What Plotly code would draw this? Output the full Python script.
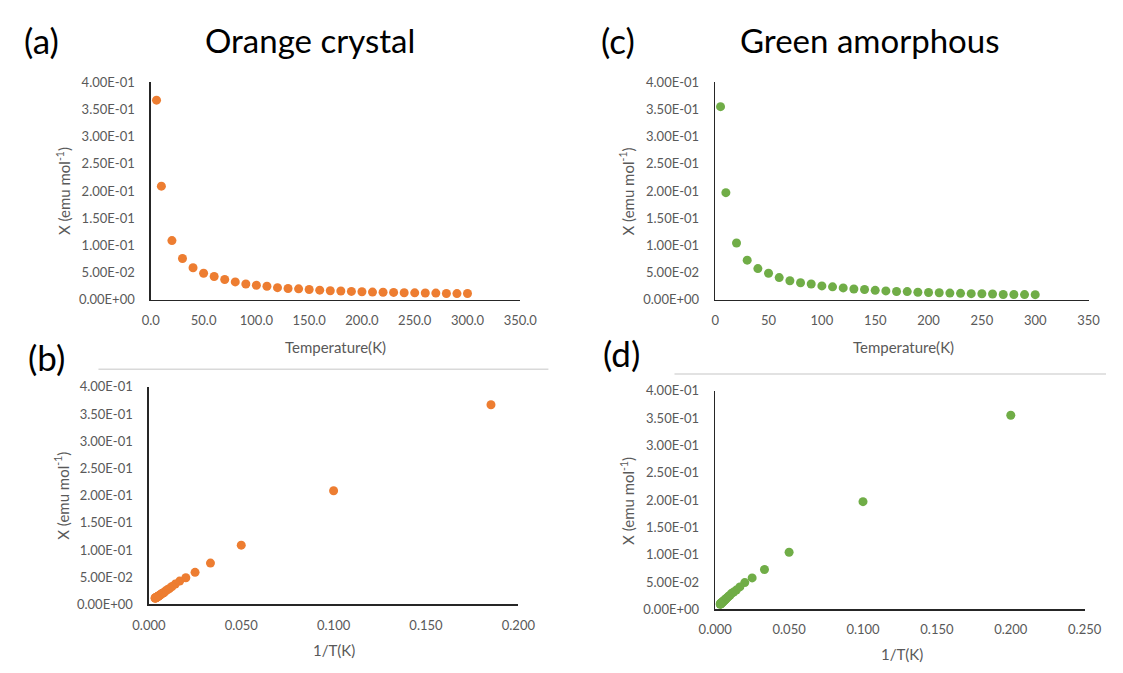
import plotly.graph_objects as go

# ---------------- data ----------------
T_orange = [5.4, 10, 20, 30, 40, 50, 60, 70, 80, 90, 100, 110, 120, 130, 140, 150,
            160, 170, 180, 190, 200, 210, 220, 230, 240, 250, 260, 270, 280, 290, 300]
chi_orange = [0.367, 0.209, 0.109, 0.076, 0.059, 0.049, 0.043, 0.0375, 0.033, 0.0293,
              0.0269, 0.025, 0.0225, 0.021, 0.0203, 0.0191, 0.0179, 0.0167, 0.0163,
              0.0156, 0.015, 0.0143, 0.0140, 0.0137, 0.0132, 0.0130, 0.0127, 0.0125,
              0.0118, 0.0116, 0.0118]

T_green = [5, 10, 20, 30, 40, 50, 60, 70, 80, 90, 100, 110, 120, 130, 140, 150,
           160, 170, 180, 190, 200, 210, 220, 230, 240, 250, 260, 270, 280, 290, 300]
chi_green = [0.355, 0.197, 0.1045, 0.073, 0.0575, 0.049, 0.041, 0.0352, 0.0316, 0.0293,
             0.0257, 0.0240, 0.0220, 0.0200, 0.0190, 0.0175, 0.0165, 0.0155, 0.0152,
             0.0140, 0.0135, 0.0132, 0.0125, 0.0120, 0.0114, 0.0112, 0.0108, 0.0100,
             0.0098, 0.0097, 0.0096]

invT_orange = [1.0 / t for t in T_orange]
invT_green = [1.0 / t for t in T_green]

y_tickvals = [0, 0.05, 0.10, 0.15, 0.20, 0.25, 0.30, 0.35, 0.40]
y_ticktext = ["0.00E+00", "5.00E-02", "1.00E-01", "1.50E-01", "2.00E-01",
              "2.50E-01", "3.00E-01", "3.50E-01", "4.00E-01"]
xa_tickvals = [0, 50, 100, 150, 200, 250, 300, 350]
xa_ticktext = ["0.0", "50.0", "100.0", "150.0", "200.0", "250.0", "300.0", "350.0"]
xc_ticktext = ["0", "50", "100", "150", "200", "250", "300", "350"]
xb_tickvals = [0, 0.05, 0.10, 0.15, 0.20]
xb_ticktext = ["0.000", "0.050", "0.100", "0.150", "0.200"]
xd_tickvals = [0, 0.05, 0.10, 0.15, 0.20, 0.25]
xd_ticktext = ["0.000", "0.050", "0.100", "0.150", "0.200", "0.250"]

ORANGE = "#ED7D31"
GREEN = "#70AD47"
W, H = 1123, 673
FONT = "Lato"
TICKCOL = "#595959"
AXCOL = "#262626"


def px(x):
    return x / W


def py(y):
    return 1 - y / H


fig = go.Figure()

fig.add_trace(go.Scatter(x=T_orange, y=chi_orange, mode="markers", xaxis="x", yaxis="y",
                         marker=dict(color=ORANGE, size=9), showlegend=False))
fig.add_trace(go.Scatter(x=invT_orange, y=chi_orange, mode="markers", xaxis="x2", yaxis="y2",
                         marker=dict(color=ORANGE, size=9), showlegend=False))
fig.add_trace(go.Scatter(x=T_green, y=chi_green, mode="markers", xaxis="x3", yaxis="y3",
                         marker=dict(color=GREEN, size=9), showlegend=False))
fig.add_trace(go.Scatter(x=invT_green, y=chi_green, mode="markers", xaxis="x4", yaxis="y4",
                         marker=dict(color=GREEN, size=9), showlegend=False))


def xaxis(domain, rng, tv, tt, anchor):
    return dict(domain=domain, range=rng, tickvals=tv, ticktext=tt, anchor=anchor,
                showgrid=False, zeroline=False, showline=True, linecolor=AXCOL, linewidth=1.5,
                ticks="outside", ticklen=8, tickcolor="rgba(0,0,0,0)",
                tickfont=dict(family=FONT, size=13, color=TICKCOL), fixedrange=True)


def yaxis(domain, anchor):
    return dict(domain=domain, range=[0, 0.4], tickvals=y_tickvals, ticktext=y_ticktext,
                anchor=anchor, showgrid=False, zeroline=False, showline=True,
                linecolor=AXCOL, linewidth=1.5,
                ticks="outside", ticklen=12, tickcolor="rgba(0,0,0,0)",
                tickfont=dict(family=FONT, size=13, color=TICKCOL), fixedrange=True)


fig.update_layout(
    width=W, height=H,
    margin=dict(l=0, r=0, t=0, b=0),
    paper_bgcolor="white", plot_bgcolor="white",
    xaxis=xaxis([px(138), px(519)], [0, 350], xa_tickvals, xa_ticktext, "y"),
    yaxis=yaxis([py(299), py(76)], "x"),
    xaxis2=xaxis([px(136), px(517)], [0, 0.2], xb_tickvals, xb_ticktext, "y2"),
    yaxis2=yaxis([py(611), py(388)], "x2"),
    xaxis3=xaxis([px(720), px(1105)], [0, 350], xa_tickvals, xc_ticktext, "y3"),
    yaxis3=yaxis([py(299), py(76)], "x3"),
    xaxis4=xaxis([px(720), px(1101)], [0, 0.25], xd_tickvals, xd_ticktext, "y4"),
    yaxis4=yaxis([py(616), py(392)], "x4"),
)

annotations = []


def text(x, y, s, size, color="black", angle=0):
    annotations.append(dict(x=px(x), y=py(y), xref="paper", yref="paper", text=s,
                            showarrow=False, xanchor="center", yanchor="middle",
                            textangle=angle, font=dict(family=FONT, size=size, color=color)))


text(25, 33, "(a)", 35)
text(302, 33, "Orange crystal", 33)
text(620, 33, "(c)", 35)
text(879, 33, "Green amorphous", 33)
text(30, 357, "(b)", 35)
text(623, 353, "(d)", 35)

text(328, 347, "Temperature(K)", 15, TICKCOL)
text(914, 347, "Temperature(K)", 15, TICKCOL)
text(327, 658, "1/T(K)", 15, TICKCOL)
text(913, 662, "1/T(K)", 15, TICKCOL)

ylab = "X (emu mol<sup>-1</sup>)"
text(48, 188, ylab, 15, TICKCOL, -90)
text(46, 500, ylab, 15, TICKCOL, -90)
text(629, 188, ylab, 15, TICKCOL, -90)
text(630, 505, ylab, 15, TICKCOL, -90)

fig.update_layout(annotations=annotations)

fig.update_layout(shapes=[
    dict(type="line", xref="paper", yref="paper", x0=px(84), x1=px(548), y0=py(370), y1=py(370),
         line=dict(color="#D9D9D9", width=1.5)),
    dict(type="line", xref="paper", yref="paper", x0=px(678), x1=1, y0=py(375), y1=py(375),
         line=dict(color="#D9D9D9", width=1.5)),
])

fig.write_html("out.html",
               config={"displayModeBar": False, "staticPlot": True},
               post_script="document.body.style.margin='0px';document.body.style.overflow='hidden';")
